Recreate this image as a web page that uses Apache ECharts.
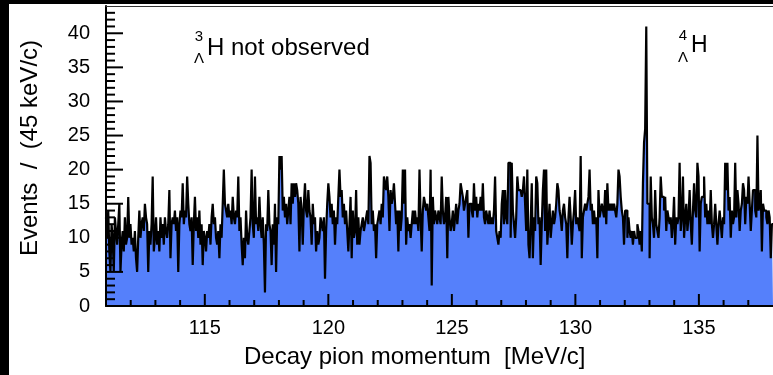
<!DOCTYPE html>
<html>
<head>
<meta charset="utf-8">
<script src="https://cdn.jsdelivr.net/npm/echarts@6/dist/echarts.min.js"></script>
<style>
html,body{margin:0;padding:0;background:#fff;}
#chart{width:773px;height:375px;}
</style>
</head>
<body>
<div id="chart"></div>
<script>
// Histogram binning (45 keV/c bins)
const binStart = 111.0;
const binWidth = 0.045;

// Counts per bin (111.0 - 138.0 MeV/c)
const countsA = [13,10,14,8,5,12,10,5,13,11, 9,12,15,5,9,11,8,13,9,10, 16,10,12,9,10,8,11,7,5,10,
  14,10,12,13,11,15,13,12,5,11, 9,12,19,8,10,13,9,11,8,13, 10,12,9,13,11,10,12,17,7,12,
  13,12,14,11,13,5,12,14,13,18, 12,14,13,19,15,12,11,13,6,12, 16,11,13,10,14,9,12,6,11,10,
  8,11,10,12,9,13,15,12,13,10, 9,11,7,12,10,15,20,15,14,13, 15,13,14,12,16,13,12,14,13];
const countsB = [19,11,13,9,6,10,7,14,10,9, 11,13,20,12,10,19,12,13,11,16, 12,10,13,9,2,12,11,17,12,11,
  6,12,9,15,5,13,12,22,20,22, 14,16,13,15,12,14,16,12,18,15, 18,16,18,17,15,8,16,14,9,15,
  18,14,13,17,14,13,9,15,12,13, 8,11,9,10,13,12,11,13,4,11, 15,18,16,13,15,12,14,9,13,12,
  16,20,16,17,13,15,12,14,11,8, 12,16,7,14,10,11,17,9,13,9, 11,12,13,11,12,13,14,12,22];
const countsC = [21,12,14,11,12,7,12,13,14,12, 15,13,19,18,17,19,16,11,17,15, 16,18,15,12,14,8,14,11,13,20,
  15,20,9,13,11,12,10,12,14,12, 14,12,13,11,20,13,8,14,16,15, 14,15,13,11,20,3,16,12,14,13,
  12,14,13,12,19,14,12,13,16,7, 16,13,11,12,14,11,13,15,12,14, 15,18,17,16,14,15,16,17,10,15,
  15,14,13,18,14,16,13,15,14,16, 14,18,13,12,14,13,12,14,12,13, 12,14,19,11,10,9,11,10,15,17];
const countsD = [12,17,13,12,21,21,10,21,14,12, 10,13,19,17,17,17,16,17,19,15, 11,20,9,7,12,18,7,13,11,19,
  18,12,13,6,12,17,20,11,20,9, 12,15,10,12,14,12,13,15,18,17, 14,13,11,14,15,13,12,7,13,16,
  13,9,12,14,17,12,13,12,11,22, 7,13,14,15,14,15,16,20,14,15, 12,14,12,13,7,17,13,14,15,14,
  13,17,12,18,14,15,14,15,14,15, 14,13,15,20,19,16,14,13,9,14, 14,10,13,11,10,11,9,11,10];
const countsE = [10,12,11,9,11,8,18,24,26,41, 15,15,7,19,13,12,10,17,12,11, 10,13,19,16,16,14,16,11,14,13,
  12,13,10,12,16,9,13,12,13,21, 11,13,19,10,13,15,11,13,17,12, 9,14,18,14,13,21,19,8,15,16,
  16,19,13,15,12,14,12,17,12,10, 12,15,12,9,12,14,12,10,13,12, 21,17,21,14,16,10,14,12,13,21,
  13,17,15,11,14,15,18,17,12,16, 15,19,15,11,14,17,17,14,13,25, 14,15,17,8,15,14,14,13,12,14,13,7,12];

// Axis ranges and tick values
const xRange = [111, 138];
const yRange = [0, 44];
const xMajorTicks = [115, 120, 125, 130, 135];
const xMinorTicks = [112,113,114,116,117,118,119,121,122,123,124,126,127,128,129,131,132,133,134,136,137];
const yMajorTicks = [5, 10, 15, 20, 25, 30, 35, 40];
const yMinorTicks = [1,2,3,4,6,7,8,9,11,12,13,14,16,17,18,19,21,22,23,24,26,27,28,29,31,32,33,34,36,37,38,39,41,42,43];

const counts = [].concat(countsA, countsB, countsC, countsD, countsE);
const histData = counts.map((v, i) => [binStart + i * binWidth, v]);
histData.push([binStart + counts.length * binWidth, counts[counts.length - 1]]);

const FONT = '"Liberation Sans", Arial, Helvetica, sans-serif';

// tick marks drawn through the axes' own scales (api.coord)
function tickSeries(values, dir, len) {
  return {
    type: 'custom', coordinateSystem: 'cartesian2d', xAxisIndex: 0, yAxisIndex: 0,
    z: 20, silent: true, clip: false,
    encode: {x: 0, y: 1},
    data: values.map(v => dir === 'x' ? [v, yRange[0]] : [xRange[0], v]),
    renderItem: function (params, api) {
      const p = api.coord([api.value(0), api.value(1)]);
      const shape = dir === 'x'
        ? {x1: p[0], y1: p[1], x2: p[0], y2: p[1] - len}
        : {x1: p[0], y1: p[1], x2: p[0] + len, y2: p[1]};
      return {type: 'line', shape: shape, style: {stroke: '#000', lineWidth: 2}};
    }
  };
}

const chart = echarts.init(document.getElementById('chart'), null, {renderer: 'canvas'});
chart.setOption({
  animation: false,
  backgroundColor: '#ffffff',
  grid: {left: 106, right: -2, top: 6, bottom: 69},
  xAxis: [{
    type: 'value', min: xRange[0], max: xRange[1], splitNumber: 5, z: 10,
    axisLine: {show: true, onZero: false, lineStyle: {color: '#000', width: 2}},
    axisTick: {show: false},
    axisLabel: {show: true, showMinLabel: false, showMaxLabel: false, margin: 12, fontSize: 20, color: '#000', fontFamily: FONT},
    splitLine: {show: false}
  }, {
    type: 'value', min: xRange[0], max: xRange[1], z: 10, position: 'top',
    axisLine: {show: true, onZero: false, lineStyle: {color: '#333', width: 1.2}},
    axisTick: {show: false},
    axisLabel: {show: false},
    splitLine: {show: false}
  }],
  yAxis: [{
    type: 'value', min: yRange[0], max: yRange[1], interval: 5, z: 10,
    axisLine: {show: true, onZero: false, lineStyle: {color: '#000', width: 2}},
    axisTick: {show: false},
    axisLabel: {show: true, showMaxLabel: false, margin: 16, fontSize: 20, color: '#000', fontFamily: FONT},
    splitLine: {show: false}
  }],
  series: [{
    type: 'line',
    xAxisIndex: 0, yAxisIndex: 0,
    data: histData,
    step: 'end',
    symbol: 'none',
    lineStyle: {color: '#000', width: 2.2},
    areaStyle: {color: '#5580fb', opacity: 1, origin: 'start'},
    z: 2
  },
  tickSeries(xMajorTicks, 'x', 12),
  tickSeries(xMinorTicks, 'x', 6),
  tickSeries(yMajorTicks, 'y', 17),
  tickSeries(yMinorTicks, 'y', 9)
  ],
  graphic: [
    {type: 'rect', left: 0, top: 0, shape: {width: 773, height: 4}, style: {fill: '#000'}, z: 100},
    {type: 'rect', left: 0, top: 0, shape: {width: 9, height: 375}, style: {fill: '#000'}, z: 100},
    {type: 'text', x: 30, y: 148, rotation: Math.PI / 2, z: 100,
      style: {text: 'Events  /  (45 keV/c)', align: 'center', verticalAlign: 'middle', fontSize: 24, fontFamily: FONT, fill: '#000'}},
    {type: 'text', x: 244, y: 357, z: 100,
      style: {text: 'Decay pion momentum  [MeV/c]', align: 'left', verticalAlign: 'middle', fontSize: 24, fontFamily: FONT, fill: '#000'}},
    {type: 'text', x: 199, y: 37, z: 100,
      style: {text: '3', align: 'center', verticalAlign: 'middle', fontSize: 15, fontFamily: FONT, fill: '#000'}},
    {type: 'text', x: 199, y: 59, z: 100,
      style: {text: 'Λ', align: 'center', verticalAlign: 'middle', fontSize: 15, fontFamily: FONT, fill: '#000'}},
    {type: 'text', x: 207, y: 48, z: 100,
      style: {text: 'H not observed', align: 'left', verticalAlign: 'middle', fontSize: 24, fontFamily: FONT, fill: '#000'}},
    {type: 'text', x: 683, y: 36, z: 100,
      style: {text: '4', align: 'center', verticalAlign: 'middle', fontSize: 15, fontFamily: FONT, fill: '#000'}},
    {type: 'text', x: 683, y: 58, z: 100,
      style: {text: 'Λ', align: 'center', verticalAlign: 'middle', fontSize: 15, fontFamily: FONT, fill: '#000'}},
    {type: 'text', x: 691, y: 46, z: 100,
      style: {text: 'H', align: 'left', verticalAlign: 'middle', fontSize: 23, fontFamily: FONT, fill: '#000'}}
  ]
});
</script>
</body>
</html>
